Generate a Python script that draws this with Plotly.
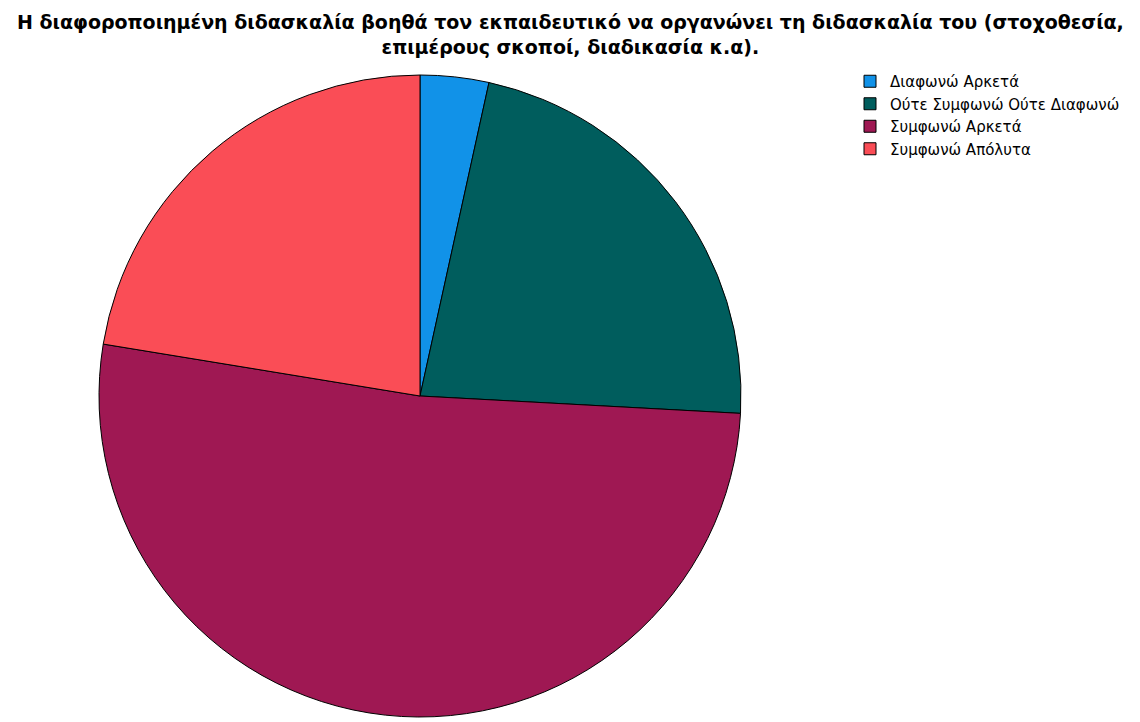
import plotly.graph_objects as go

# Responses (counts) for the statement
labels = ["Διαφωνώ Αρκετά", "Ούτε Συμφωνώ Ούτε Διαφωνώ", "Συμφωνώ Αρκετά", "Συμφωνώ Απόλυτα"]
counts = [2, 13, 30, 13]
colors = ["#1192E8", "#005D5D", "#9F1853", "#FA4D56"]

title_text = ("Η διαφοροποιημένη διδασκαλία βοηθά τον εκπαιδευτικό να οργανώνει τη διδασκαλία του (στοχοθεσία,"
              "<br>επιμέρους σκοποί, διαδικασία κ.α).")

W, H = 1140, 722
cx, cy, r = 420, 396, 321

fig = go.Figure(go.Pie(
    labels=labels,
    values=counts,
    sort=False,
    direction="clockwise",
    rotation=0,
    textinfo="none",
    hoverinfo="label+value+percent",
    marker=dict(colors=colors, line=dict(color="#000000", width=1)),
    domain=dict(x=[(cx - r) / W, (cx + r) / W], y=[(H - cy - r) / H, (H - cy + r) / H]),
))

fig.update_layout(
    width=W, height=H,
    margin=dict(l=0, r=0, t=0, b=0),
    paper_bgcolor="white",
    plot_bgcolor="white",
    annotations=[dict(
        text=title_text,
        xref="paper", yref="paper",
        x=0.5, xanchor="center",
        y=1 - 9 / H, yanchor="top",
        showarrow=False,
        align="center",
        font=dict(family="DejaVu Sans, sans-serif", size=19, color="#000000", weight="bold"),
    )],
    legend=dict(
        x=850 / W, xanchor="left",
        y=1 - 65 / H, yanchor="top",
        font=dict(family="DejaVu Sans, sans-serif", size=15, color="#000000"),
        bgcolor="rgba(0,0,0,0)",
        itemwidth=30,
        tracegroupgap=0,
    ),
    showlegend=True,
)

fig.write_html("out.html")
